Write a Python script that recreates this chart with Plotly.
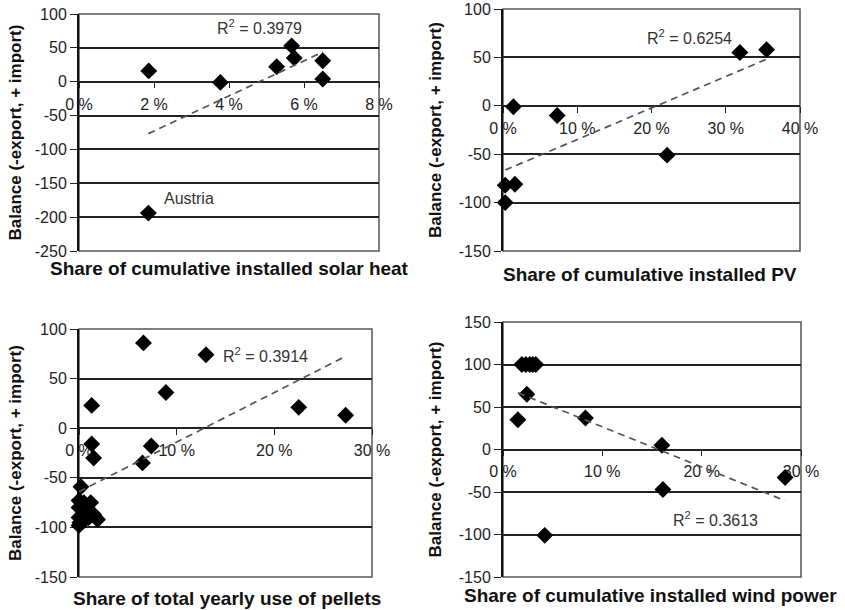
import numpy as np
import plotly.graph_objects as go

# ---------------- data ----------------
solar_x = [1.86, 3.77, 5.67, 5.74, 5.27, 6.50, 6.50, 1.85]
solar_y = [16, -1, 53, 35, 22, 31, 4, -194]

pv_x = [1.4, 7.3, 22.1, 31.9, 35.5, 0.3, 1.6, 0.3]
pv_y = [-1, -10, -51, 55, 58, -82, -81, -100]

pel_x = [6.6, 13.0, 8.9, 1.3, 22.5, 27.3, 1.3, 1.5, 7.4, 6.5,
         0.2, 0.0, 0.5, 1.2, 0.0, 0.7, 1.5, 1.9, 0.0, 0.5, 0.0, 1.0, 0.35, 0.1]
pel_y = [86, 74, 36, 23, 21, 13, -16, -30, -18, -35,
         -59, -73, -75, -75, -80, -83, -87, -92, -90, -93, -98, -90, -78, -95]

wind_x = [1.9, 2.3, 2.7, 3.0, 3.3, 2.4, 1.5, 8.3, 16.0, 16.1, 4.2, 28.4]
wind_y = [100, 100, 100, 100, 100, 65, 35, 37, 5, -47, -101, -33]

panels = [
    dict(x=solar_x, y=solar_y, xr=[0, 8], xt=[0, 2, 4, 6, 8],
         xl=["0 %", "2 %", "4 %", "6 %", "8 %"],
         yr=[-250, 100], yt=[100, 50, 0, -50, -100, -150, -200, -250],
         r2="0.3979", r2pos=(4.8, 81),
         title="Share of cumulative installed solar heat",
         dx=[79, 379], dy=[14, 251], tpos=(229, 268), ytx=15),
    dict(x=pv_x, y=pv_y, xr=[0, 40], xt=[0, 10, 20, 30, 40],
         xl=["0 %", "10 %", "20 %", "30 %", "40 %"],
         yr=[-150, 100], yt=[100, 50, 0, -50, -100, -150],
         r2="0.6254", r2pos=(25.1, 71),
         title="Share of cumulative installed PV",
         dx=[503, 800], dy=[9, 251], tpos=(650, 275), ytx=435),
    dict(x=pel_x, y=pel_y, xr=[0, 30], xt=[0, 10, 20, 30],
         xl=["0 %", "10 %", "20 %", "30 %"],
         yr=[-150, 100], yt=[100, 50, 0, -50, -100, -150],
         r2="0.3914", r2pos=(19.1, 74),
         title="Share of total yearly use of pellets",
         dx=[79, 372], dy=[329, 577], tpos=(227, 598), ytx=15),
    dict(x=wind_x, y=wind_y, xr=[0, 30], xt=[0, 10, 20, 30],
         xl=["0 %", "10 %", "20 %", "30 %"],
         yr=[-150, 150], yt=[150, 100, 50, 0, -50, -100, -150],
         r2="0.3613", r2pos=(21.4, -82),
         title="Share of cumulative installed wind power",
         dx=[503, 801], dy=[322, 577], tpos=(650, 595), ytx=435),
]

W, H = 845, 610
FONT = "Liberation Sans, Arial, sans-serif"
fig = go.Figure()
layout = dict(width=W, height=H, margin=dict(l=0, r=0, t=0, b=0, autoexpand=False),
              paper_bgcolor="white", plot_bgcolor="white", showlegend=False)
annotations = []
shapes = []

for i, p in enumerate(panels, start=1):
    xa = "x" if i == 1 else f"x{i}"
    ya = "y" if i == 1 else f"y{i}"
    xdom = [p["dx"][0] / W, p["dx"][1] / W]
    ydom = [1 - p["dy"][1] / H, 1 - p["dy"][0] / H]
    y0, y1 = p["yr"]
    zero_pos = ydom[0] + (0 - y0) / (y1 - y0) * (ydom[1] - ydom[0])

    fig.add_trace(go.Scatter(x=p["x"], y=p["y"], mode="markers", xaxis=xa, yaxis=ya,
                             marker=dict(symbol="diamond", size=13, color="black",
                                         line=dict(width=0)), cliponaxis=False))
    # linear trendline (least squares) across data range
    k, b = np.polyfit(p["x"], p["y"], 1)
    tx = np.array([min(p["x"]), max(p["x"])])
    fig.add_trace(go.Scatter(x=tx, y=k * tx + b, mode="lines", xaxis=xa, yaxis=ya,
                             line=dict(color="#555555", width=1.7, dash="7px,5px")))

    layout["xaxis" if i == 1 else f"xaxis{i}"] = dict(
        domain=xdom, range=p["xr"], anchor="free", position=zero_pos,
        showgrid=False, zeroline=False, automargin=False,
        showline=True, linecolor="#222", linewidth=1.5,
        ticks="outside", ticklen=6, tickwidth=1.2, tickcolor="#222",
        tickvals=p["xt"], ticktext=p["xl"], ticklabelstandoff=2,
        tickfont=dict(family=FONT, size=16, color="#222"), layer="below traces",
        fixedrange=True)
    layout["yaxis" if i == 1 else f"yaxis{i}"] = dict(
        domain=ydom, range=p["yr"], anchor=xa, showgrid=True, automargin=False,
        gridcolor="#222", gridwidth=1.6, zeroline=False,
        showline=True, linecolor="#111", linewidth=2,
        ticks="outside", ticklen=7, tickwidth=1.2, tickcolor="#222",
        tickvals=p["yt"], ticktext=[str(v) for v in p["yt"]],
        tickfont=dict(family=FONT, size=16, color="#222"),
        layer="below traces", fixedrange=True)

    shapes.append(dict(type="rect", xref=f"{xa} domain", yref=f"{ya} domain",
                       x0=0, x1=1, y0=0, y1=1, line=dict(color="#555", width=1.5),
                       layer="below"))

    annotations.append(dict(text=f"R<sup>2</sup> = {p['r2']}", x=p["r2pos"][0], y=p["r2pos"][1],
                            xref=xa, yref=ya, showarrow=False,
                            font=dict(family=FONT, size=16, color="#333")))
    annotations.append(dict(text=f"<b>{p['title']}</b>", x=p["tpos"][0] / W, y=1 - p["tpos"][1] / H,
                            xref="paper", yref="paper", showarrow=False,
                            xanchor="center", yanchor="middle",
                            font=dict(family=FONT, size=19, color="#111")))
    annotations.append(dict(text="<b>Balance (-export, + import)</b>", textangle=-90,
                            x=p["ytx"] / W, y=(ydom[0] + ydom[1]) / 2,
                            xref="paper", yref="paper", showarrow=False,
                            xanchor="center", yanchor="middle",
                            font=dict(family=FONT, size=17, color="#111")))

annotations.append(dict(text="Austria", x=2.92, y=-173, xref="x", yref="y", showarrow=False,
                        font=dict(family=FONT, size=16, color="#333")))

layout["annotations"] = annotations
layout["shapes"] = shapes
fig.update_layout(**layout)
fig.write_html("out.html", config={"displayModeBar": False},
               post_script="document.body.style.margin='0';document.body.style.padding='0';"
                           "document.body.style.overflow='hidden';")
